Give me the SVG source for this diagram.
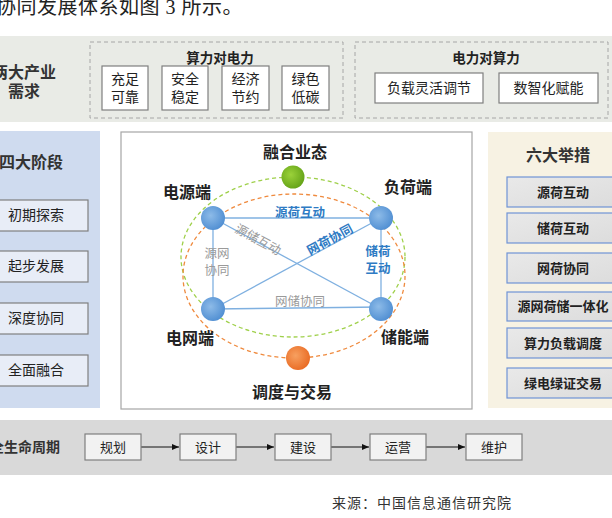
<svg xmlns="http://www.w3.org/2000/svg" width="612" height="518" viewBox="0 0 612 518">
<defs>
<style>
text{font-family:"Noto Sans CJK SC","Noto Sans",sans-serif;}
.b{font-weight:bold;}
.box{fill:#fff;stroke:#7f7f7f;stroke-width:1.2;}
.dash{fill:none;stroke:#a6a6a6;stroke-width:1;stroke-dasharray:4 3;}
.stage{fill:#e8edf7;stroke:#7f7f7f;stroke-width:1.2;}
.meas{fill:url(#mg);stroke:#6f93d6;stroke-width:1.2;}
.life{fill:#f2f2f2;stroke:#7f7f7f;stroke-width:1.2;}
.edge{stroke:#7fb0e0;stroke-width:1.3;fill:none;}
.t14{font-size:14px;fill:#222;}
.t13{font-size:13px;fill:#222;}
.nl{font-size:16px;font-weight:bold;fill:#222;}
.blue{fill:#2e7bc4;font-weight:bold;font-size:12.5px;}
.gray{fill:#9a9a9a;font-size:12.5px;}
</style>
<linearGradient id="mg" x1="0" y1="0" x2="1" y2="1">
<stop offset="0" stop-color="#e9e9e9"/><stop offset="1" stop-color="#dcdcdc"/>
</linearGradient>
<radialGradient id="bn" cx="0.4" cy="0.4" r="0.7">
<stop offset="0" stop-color="#8dbbe8"/><stop offset="1" stop-color="#4a8ad0"/>
</radialGradient>
<radialGradient id="gn" cx="0.4" cy="0.4" r="0.7">
<stop offset="0" stop-color="#9bd23a"/><stop offset="1" stop-color="#5f9e14"/>
</radialGradient>
<radialGradient id="on" cx="0.4" cy="0.4" r="0.7">
<stop offset="0" stop-color="#f7a060"/><stop offset="1" stop-color="#e8661e"/>
</radialGradient>
<marker id="arr" markerWidth="8" markerHeight="8" refX="7" refY="4" orient="auto" markerUnits="userSpaceOnUse">
<path d="M0,1 L7,4 L0,7 z" fill="#111"/>
</marker>
</defs>

<rect width="612" height="518" fill="#fff"/>
<text x="243" y="14" text-anchor="end" style="font-family:'Liberation Serif','Noto Sans CJK SC',serif;font-size:20px;fill:#222;letter-spacing:0.5px">协同发展体系如图 3 所示。</text>

<!-- top band -->
<g id="demand">
<rect x="0" y="36" width="612" height="86" fill="#e9ebe6"/>
<text class="b" x="24" y="78" text-anchor="middle" font-size="16" fill="#333">两大产业</text>
<text class="b" x="24" y="97" text-anchor="middle" font-size="16" fill="#333">需求</text>
</g>
<g id="compute-to-power">
<rect class="dash" x="90" y="42" width="253" height="76"/>
<text class="b" x="220" y="63" text-anchor="middle" font-size="13.5" fill="#222">算力对电力</text>
<rect class="box" x="102" y="66" width="46" height="44"/>
<text class="t14" x="125" y="84" text-anchor="middle">充足</text>
<text class="t14" x="125" y="102" text-anchor="middle">可靠</text>
<rect class="box" x="162" y="66" width="46" height="44"/>
<text class="t14" x="185" y="84" text-anchor="middle">安全</text>
<text class="t14" x="185" y="102" text-anchor="middle">稳定</text>
<rect class="box" x="222" y="66" width="47" height="44"/>
<text class="t14" x="245.5" y="84" text-anchor="middle">经济</text>
<text class="t14" x="245.5" y="102" text-anchor="middle">节约</text>
<rect class="box" x="282" y="66" width="47" height="44"/>
<text class="t14" x="305.5" y="84" text-anchor="middle">绿色</text>
<text class="t14" x="305.5" y="102" text-anchor="middle">低碳</text>
</g>
<g id="power-to-compute">
<rect class="dash" x="355" y="42" width="253" height="76"/>
<text class="b" x="486" y="63" text-anchor="middle" font-size="13.5" fill="#222">电力对算力</text>
<rect class="box" x="375" y="73" width="108" height="30"/>
<text class="t14" x="429" y="93" text-anchor="middle">负载灵活调节</text>
<rect class="box" x="499" y="73" width="99" height="30"/>
<text class="t14" x="548.5" y="93" text-anchor="middle">数智化赋能</text>
</g>

<!-- left panel -->
<g id="stages">
<rect x="0" y="131" width="100" height="277" fill="#cfdbef"/>
<text class="b" x="31" y="168" text-anchor="middle" font-size="16" fill="#333">四大阶段</text>
<rect class="stage" x="-2" y="200" width="90" height="31"/>
<text class="t14" x="36" y="220" text-anchor="middle">初期探索</text>
<rect class="stage" x="-2" y="251" width="90" height="31"/>
<text class="t14" x="36" y="271" text-anchor="middle">起步发展</text>
<rect class="stage" x="-2" y="303" width="90" height="31"/>
<text class="t14" x="36" y="323" text-anchor="middle">深度协同</text>
<rect class="stage" x="-2" y="355" width="90" height="31"/>
<text class="t14" x="36" y="375" text-anchor="middle">全面融合</text>
</g>

<!-- center panel -->
<rect x="121" y="132" width="351" height="277" fill="#fff" stroke="#a6a6a6" stroke-width="1.2"/>
<g id="connectors">
<ellipse cx="293" cy="257" rx="112" ry="80" fill="none" stroke="#9fd04a" stroke-width="1.3" stroke-dasharray="4 3"/>
<ellipse cx="294" cy="276" rx="111" ry="82" fill="none" stroke="#ef8a3e" stroke-width="1.3" stroke-dasharray="4 3"/>
<line class="edge" x1="213" y1="218" x2="381" y2="218" stroke-width="2"/>
<line class="edge" x1="213" y1="218" x2="213" y2="309"/>
<line class="edge" x1="381" y1="218" x2="381" y2="309"/>
<line class="edge" x1="213" y1="309" x2="381" y2="307"/>
<line class="edge" x1="213" y1="218" x2="381" y2="309"/>
<line class="edge" x1="213" y1="309" x2="381" y2="218"/>
<text class="blue" x="300" y="217" text-anchor="middle">源荷互动</text>
<text class="gray" x="258" y="244" text-anchor="middle" transform="rotate(28.4 258 240)">源储互动</text>
<text class="blue" x="330" y="244" text-anchor="middle" transform="rotate(-28.4 330 240)">网荷协同</text>
<text class="gray" x="217" y="258" text-anchor="middle">源网</text>
<text class="gray" x="217" y="275" text-anchor="middle">协同</text>
<text class="blue" x="378" y="256" text-anchor="middle">储荷</text>
<text class="blue" x="378" y="273" text-anchor="middle">互动</text>
<text class="gray" x="300" y="306" text-anchor="middle">网储协同</text>
</g>
<g id="fusion">
<circle cx="293" cy="177" r="11.5" fill="url(#gn)"/>
<text class="nl" x="295" y="158" text-anchor="middle">融合业态</text>
</g>
<g id="source">
<circle cx="213" cy="218" r="12" fill="url(#bn)"/>
<text class="nl" x="187" y="198" text-anchor="middle">电源端</text>
</g>
<g id="load">
<circle cx="381" cy="218" r="12" fill="url(#bn)"/>
<text class="nl" x="408" y="193" text-anchor="middle">负荷端</text>
</g>
<g id="grid">
<circle cx="213" cy="309" r="12" fill="url(#bn)"/>
<text class="nl" x="190" y="344" text-anchor="middle">电网端</text>
</g>
<g id="storage">
<circle cx="381" cy="309" r="12" fill="url(#bn)"/>
<text class="nl" x="405" y="343" text-anchor="middle">储能端</text>
</g>
<g id="dispatch">
<circle cx="298" cy="358" r="12" fill="url(#on)"/>
<text class="nl" x="292" y="398" text-anchor="middle">调度与交易</text>
</g>

<!-- right panel -->
<g id="measures">
<rect x="488" y="132" width="126" height="276" fill="#f7f2e3"/>
<text class="b" x="558" y="161" text-anchor="middle" font-size="16" fill="#333">六大举措</text>
<rect class="meas" x="507" y="177" width="110" height="30"/>
<text class="b t13" x="563" y="197" text-anchor="middle">源荷互动</text>
<rect class="meas" x="507" y="213" width="110" height="30"/>
<text class="b t13" x="563" y="233" text-anchor="middle">储荷互动</text>
<rect class="meas" x="507" y="253" width="110" height="30"/>
<text class="b t13" x="563" y="273" text-anchor="middle">网荷协同</text>
<rect class="meas" x="507" y="292" width="110" height="29"/>
<text class="b t13" x="563" y="311" text-anchor="middle">源网荷储一体化</text>
<rect class="meas" x="507" y="328" width="110" height="30"/>
<text class="b t13" x="563" y="348" text-anchor="middle">算力负载调度</text>
<rect class="meas" x="507" y="368" width="110" height="30"/>
<text class="b t13" x="563" y="388" text-anchor="middle">绿电绿证交易</text>
</g>

<!-- bottom band -->
<g id="lifecycle">
<rect x="0" y="420" width="612" height="55" fill="#d9d9d9"/>
<text class="b" x="60" y="452" text-anchor="end" font-size="14" fill="#333">全生命周期</text>
</g>
<g id="lifecycle-links">
<line x1="141" y1="447" x2="179" y2="447" stroke="#111" stroke-width="1" marker-end="url(#arr)"/>
<line x1="236" y1="447" x2="274" y2="447" stroke="#111" stroke-width="1" marker-end="url(#arr)"/>
<line x1="331" y1="447" x2="369" y2="447" stroke="#111" stroke-width="1" marker-end="url(#arr)"/>
<line x1="426" y1="447" x2="465" y2="447" stroke="#111" stroke-width="1" marker-end="url(#arr)"/>
</g>
<g id="plan"><rect class="life" x="85" y="434" width="56" height="26"/><text class="t13" x="113" y="452" text-anchor="middle">规划</text></g>
<g id="design"><rect class="life" x="180" y="434" width="56" height="26"/><text class="t13" x="208" y="452" text-anchor="middle">设计</text></g>
<g id="build"><rect class="life" x="275" y="434" width="56" height="26"/><text class="t13" x="303" y="452" text-anchor="middle">建设</text></g>
<g id="operate"><rect class="life" x="370" y="434" width="56" height="26"/><text class="t13" x="398" y="452" text-anchor="middle">运营</text></g>
<g id="maintain"><rect class="life" x="466" y="434" width="56" height="26"/><text class="t13" x="494" y="452" text-anchor="middle">维护</text></g>

<text x="512" y="508" text-anchor="end" style="font-size:14px;fill:#333;letter-spacing:1px">来源：中国信息通信研究院</text>
</svg>
